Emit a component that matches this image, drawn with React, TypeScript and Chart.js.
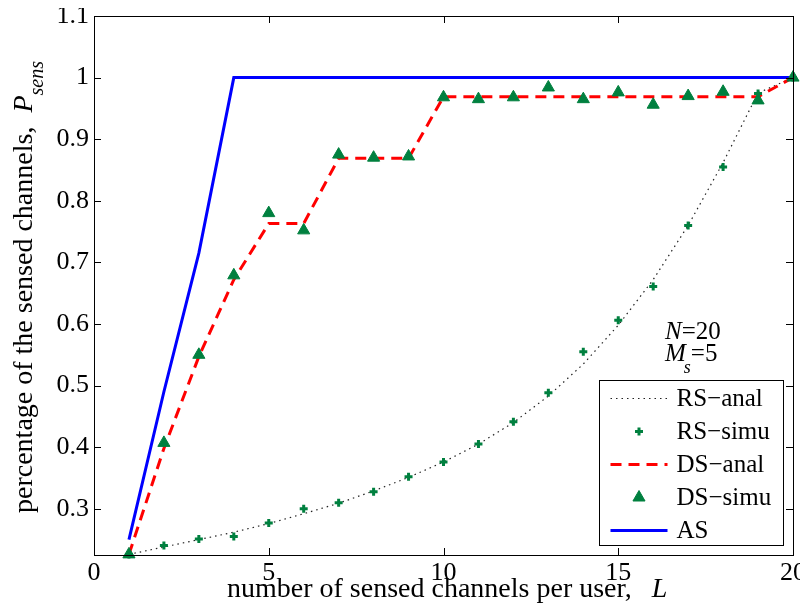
import React, { useEffect, useRef } from "react";
import { Chart, registerables } from "chart.js";

Chart.register(...registerables);

const L = [1, 2, 3, 4, 5, 6, 7, 8, 9, 10, 11, 12, 13, 14, 15, 16, 17, 18, 19, 20];
const RS_ANAL = [0.226, 0.238, 0.25, 0.262, 0.276, 0.292, 0.309, 0.329, 0.351, 0.376, 0.405, 0.44, 0.483, 0.535, 0.598, 0.672, 0.76, 0.862, 0.975, 1.0];
const RS_SIMU = [0.226, 0.2405, 0.251, 0.255, 0.277, 0.3, 0.31, 0.3275, 0.352, 0.376, 0.405, 0.4415, 0.4885, 0.555, 0.606, 0.661, 0.76, 0.855, 0.974, 1.0];
const DS_ANAL = [0.226, 0.398, 0.547, 0.672, 0.763, 0.763, 0.869, 0.869, 0.869, 0.969, 0.969, 0.969, 0.969, 0.969, 0.969, 0.969, 0.969, 0.969, 0.969, 1.0];
const DS_SIMU = [0.226, 0.407, 0.55, 0.679, 0.78, 0.752, 0.875, 0.87, 0.872, 0.968, 0.965, 0.968, 0.984, 0.965, 0.976, 0.956, 0.97, 0.977, 0.963, 1.0];
const AS = [0.25, 0.49, 0.715, 1, 1, 1, 1, 1, 1, 1, 1, 1, 1, 1, 1, 1, 1, 1, 1, 1];

const X_TICKS = [0, 5, 10, 15, 20];
const Y_TICKS = [0.3, 0.4, 0.5, 0.6, 0.7, 0.8, 0.9, 1.0, 1.1];
const LEGEND_LABELS = ["RS\u2212anal", "RS\u2212simu", "DS\u2212anal", "DS\u2212simu", "AS"];

const FONT = "'Liberation Serif', 'Times New Roman', serif";
const GREEN = "#00803f";
const BLUE = "#0000ff";
const RED = "#ff0000";
const DOT = "#222222";

const pts = (ys: number[]) => L.map((x, i) => ({ x, y: ys[i] }));

function drawPlus(ctx: CanvasRenderingContext2D, x: number, y: number) {
  ctx.save();
  ctx.strokeStyle = GREEN;
  ctx.lineWidth = 3;
  ctx.beginPath();
  ctx.moveTo(x - 4, y);
  ctx.lineTo(x + 4, y);
  ctx.moveTo(x, y - 4);
  ctx.lineTo(x, y + 4);
  ctx.stroke();
  ctx.restore();
}

function drawTri(ctx: CanvasRenderingContext2D, x: number, y: number, r: number) {
  ctx.save();
  ctx.fillStyle = GREEN;
  ctx.strokeStyle = GREEN;
  ctx.lineWidth = 1;
  ctx.beginPath();
  ctx.moveTo(x, y - r);
  ctx.lineTo(x + r * Math.sqrt(3) / 2, y + r / 2);
  ctx.lineTo(x - r * Math.sqrt(3) / 2, y + r / 2);
  ctx.closePath();
  ctx.fill();
  ctx.stroke();
  ctx.restore();
}

const decorPlugin = {
  id: "decor",
  afterDraw(chart: any) {
    const ctx: CanvasRenderingContext2D = chart.ctx;
    const a = chart.chartArea;
    const xs = chart.scales.x;
    const ys = chart.scales.y;
    ctx.save();
    // frame
    ctx.strokeStyle = "#000";
    ctx.lineWidth = 1;
    ctx.strokeRect(Math.round(a.left) + 0.5, Math.round(a.top) + 0.5, Math.round(a.right - a.left), Math.round(a.bottom - a.top));
    // inward ticks
    const tl = 7;
    ctx.beginPath();
    X_TICKS.forEach((v) => {
      const px = Math.round(xs.getPixelForValue(v)) + 0.5;
      ctx.moveTo(px, a.bottom);
      ctx.lineTo(px, a.bottom - tl);
      ctx.moveTo(px, a.top);
      ctx.lineTo(px, a.top + tl);
    });
    Y_TICKS.forEach((v) => {
      const py = Math.round(ys.getPixelForValue(v)) + 0.5;
      ctx.moveTo(a.left, py);
      ctx.lineTo(a.left + tl, py);
      ctx.moveTo(a.right, py);
      ctx.lineTo(a.right - tl, py);
    });
    ctx.stroke();

    // legend
    const bw = 184, bh = 165;
    const bx = Math.round(a.right - 10 - bw) + 0.5;
    const by = Math.round(a.bottom - 10 - bh) + 0.5;
    ctx.fillStyle = "#fff";
    ctx.fillRect(bx, by, bw, bh);
    ctx.strokeStyle = "#000";
    ctx.lineWidth = 1;
    ctx.strokeRect(bx, by, bw, bh);
    const sx1 = bx + 11, sx2 = bx + 68, tx = bx + 77;
    LEGEND_LABELS.forEach((lab, i) => {
      const ry = by + 18 + i * 33;
      ctx.save();
      if (i === 0) {
        ctx.strokeStyle = DOT; ctx.lineWidth = 1.2; ctx.setLineDash([1.5, 4]);
        ctx.beginPath(); ctx.moveTo(sx1, ry); ctx.lineTo(sx2, ry); ctx.stroke();
      } else if (i === 1) {
        drawPlus(ctx, (sx1 + sx2) / 2, ry);
      } else if (i === 2) {
        ctx.strokeStyle = RED; ctx.lineWidth = 3; ctx.setLineDash([11, 7]);
        ctx.beginPath(); ctx.moveTo(sx1, ry); ctx.lineTo(sx2, ry); ctx.stroke();
      } else if (i === 3) {
        drawTri(ctx, (sx1 + sx2) / 2, ry, 7);
      } else {
        ctx.strokeStyle = BLUE; ctx.lineWidth = 3;
        ctx.beginPath(); ctx.moveTo(sx1, ry); ctx.lineTo(sx2, ry); ctx.stroke();
      }
      ctx.restore();
      ctx.fillStyle = "#000";
      ctx.font = `25px ${FONT}`;
      ctx.textAlign = "left";
      ctx.textBaseline = "middle";
      ctx.fillText(lab, tx, ry + 1);
    });

    // annotation N=20, M_s=5
    ctx.textBaseline = "alphabetic";
    ctx.textAlign = "left";
    const ax = a.right - 128;
    const ay1 = a.bottom - 216;
    ctx.font = `italic 25px ${FONT}`;
    ctx.fillText("N", ax, ay1);
    let w = ctx.measureText("N").width;
    ctx.font = `25px ${FONT}`;
    ctx.fillText("=20", ax + w, ay1);
    const ay2 = ay1 + 22;
    ctx.font = `italic 25px ${FONT}`;
    ctx.fillText("M", ax, ay2);
    w = ctx.measureText("M").width;
    ctx.font = `italic 18px ${FONT}`;
    ctx.fillText("s", ax + w - 2, ay2 + 12);
    ctx.font = `25px ${FONT}`;
    ctx.fillText("=5", ax + w + 5, ay2);

    // x title
    const xt = "number of sensed channels per user,  ";
    ctx.font = `28px ${FONT}`;
    const xtx = a.left + 133;
    const xty = a.bottom + 42;
    ctx.fillText(xt, xtx, xty);
    const xw = ctx.measureText(xt).width;
    ctx.font = `italic 28px ${FONT}`;
    ctx.fillText("L", xtx + xw + 6, xty);

    // y title
    ctx.save();
    ctx.translate(24, a.bottom - 42);
    ctx.rotate(-Math.PI / 2);
    const yt = "percentage of the sensed channels,  ";
    ctx.font = `28px ${FONT}`;
    ctx.fillText(yt, 0, 0);
    const yw = ctx.measureText(yt).width;
    ctx.font = `italic 28px ${FONT}`;
    ctx.fillText("P", yw, 0);
    const pw = ctx.measureText("P").width;
    ctx.font = `italic 20px ${FONT}`;
    ctx.fillText("sens", yw + pw, 11);
    ctx.restore();

    ctx.restore();
  },
};

export default function App() {
  const ref = useRef<HTMLCanvasElement>(null);
  useEffect(() => {
    if (!ref.current) return;
    const chart = new Chart(ref.current, {
      type: "line",
      data: {
        datasets: [
          { label: "RS-anal", data: pts(RS_ANAL), borderColor: DOT, borderWidth: 1.2, borderDash: [1.5, 4], pointRadius: 0, fill: false, order: 5 },
          { label: "AS", data: pts(AS), borderColor: BLUE, borderWidth: 3, pointRadius: 0, fill: false, order: 4 },
          { label: "DS-anal", data: pts(DS_ANAL), borderColor: RED, borderWidth: 3, borderDash: [11, 7], pointRadius: 0, fill: false, order: 3 },
          { label: "RS-simu", data: pts(RS_SIMU), showLine: false, pointStyle: "cross", pointRadius: 4, pointBorderWidth: 3, pointBorderColor: GREEN, pointBackgroundColor: GREEN, borderColor: GREEN, clip: false, order: 1 },
          { label: "DS-simu", data: pts(DS_SIMU), showLine: false, pointStyle: "triangle", pointRadius: 7, pointBorderWidth: 1, pointBorderColor: GREEN, pointBackgroundColor: GREEN, borderColor: GREEN, clip: false, order: 2 },
        ] as any,
      },
      options: {
        animation: false,
        responsive: false,
        devicePixelRatio: 1,
        layout: { padding: { left: 0, top: 7, right: 15, bottom: 0 } },
        plugins: { legend: { display: false }, tooltip: { enabled: false } },
        scales: {
          x: {
            type: "linear",
            min: 0,
            max: 20,
            afterBuildTicks: (s: any) => { s.ticks = X_TICKS.map((v) => ({ value: v })); },
            afterFit: (s: any) => { s.height = 53; s.paddingLeft = 0; s.paddingRight = 0; },
            ticks: { font: { family: FONT, size: 26 }, color: "#000", padding: 3, maxRotation: 0, callback: (v: any) => String(v) },
            grid: { display: false, drawTicks: false },
            border: { display: false },
          },
          y: {
            type: "linear",
            min: 0.225,
            max: 1.1,
            afterBuildTicks: (s: any) => { s.ticks = Y_TICKS.map((v) => ({ value: v })); },
            afterFit: (s: any) => { s.width = 86; s.paddingTop = 0; s.paddingBottom = 0; },
            ticks: { font: { family: FONT, size: 26 }, color: "#000", padding: 5, callback: (v: any) => String(Number(Number(v).toFixed(1))) },
            grid: { display: false, drawTicks: false },
            border: { display: false },
          },
        },
      },
      plugins: [decorPlugin],
    } as any);
    return () => chart.destroy();
  }, []);
  return (
    <div style={{ width: 800, height: 600 }}>
      <canvas ref={ref} width={800} height={600} style={{ display: "block" }} />
    </div>
  );
}
